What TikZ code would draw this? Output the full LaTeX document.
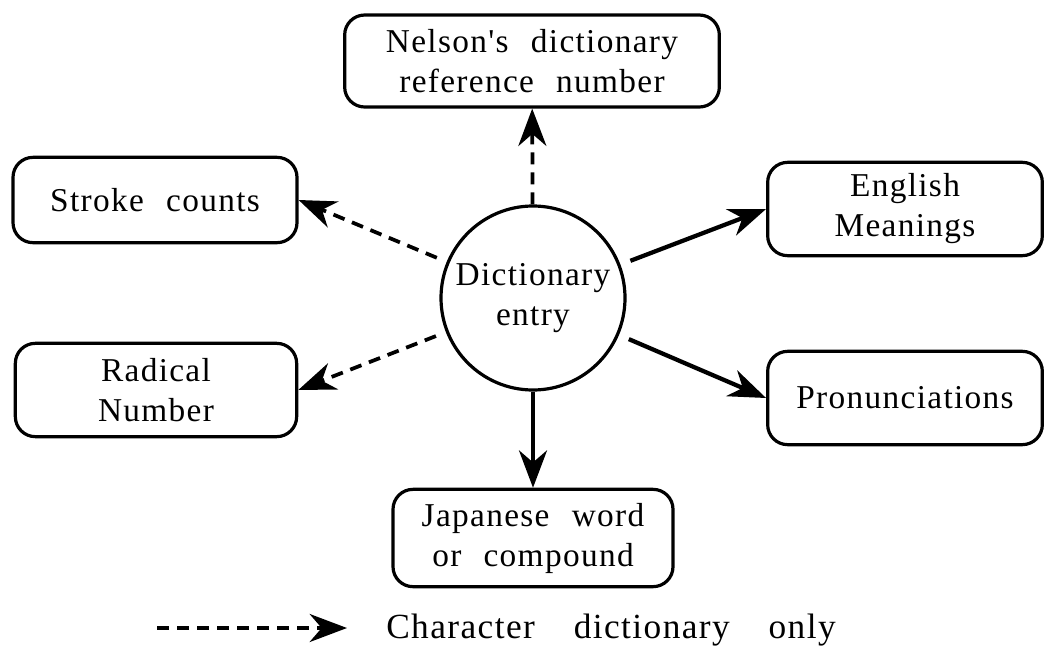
\documentclass[tikz,border=0pt]{standalone}
\usepackage{fontspec}
\setmainfont{Liberation Serif}[Ligatures=TeXOff,LetterSpace=4,WordSpace=2.3]
\usetikzlibrary{arrows.meta}
\begin{document}
\begin{tikzpicture}[x=0.75pt,y=-0.75pt,
  every node/.style={font=\fontsize{25}{30}\selectfont, align=center, inner sep=0pt},
  infobox/.style={draw, line width=2.4pt, rounded corners=15pt},
  hub/.style={draw, circle, line width=2.4pt, minimum size=138pt},
  tip/.style={-{Stealth[length=28pt,width=21pt,inset=9pt]}},
  link/.style={tip, line width=3.2pt},
  charlink/.style={tip, line width=2.8pt, dash pattern=on 9pt off 6pt}]
  \useasboundingbox (0,0) rectangle (1045,653);

  % central entry
  \node[hub] (c) at (533,298) {Dictionary\\entry};

  % surrounding fields
  \node[infobox, minimum width=281pt, minimum height=69pt] (nelson) at (532,61)
    {Nelson's dictionary\\reference number};
  \node[infobox, minimum width=213pt, minimum height=64pt] (stroke) at (155,200)
    {Stroke counts};
  \node[infobox, minimum width=211pt, minimum height=70pt] (radical) at (156,390)
    {Radical\\Number};
  \node[infobox, minimum width=206pt, minimum height=70pt] (english) at (905,209)
    {English\\Meanings};
  \node[infobox, minimum width=206pt, minimum height=70pt] (pron) at (905,398)
    {Pronunciations};
  \node[infobox, minimum width=210pt, minimum height=73pt] (jap) at (533,538)
    {Japanese word\\or compound};

  % connectors
  \draw[charlink] (c) -- (nelson);
  \draw[charlink, shorten <=8pt] (c) -- (stroke.east);
  \draw[charlink, shorten <=8pt] (c) -- (radical.east);
  \draw[link, shorten <=8pt] (c) -- (english.west);
  \draw[link, shorten <=8pt] (c) -- (pron.west);
  \draw[link] (c) -- (jap);

  % legend
  \coordinate (la) at (157,628);
  \coordinate (lb) at (347,628);
  \draw[charlink] (la) -- (lb);
  \node[anchor=west, font=\fontsize{26.5}{30}\selectfont] (legend) at (386,630)
    {Character\hspace{1.1em}dictionary\hspace{1.1em}only};
\end{tikzpicture}
\end{document}
